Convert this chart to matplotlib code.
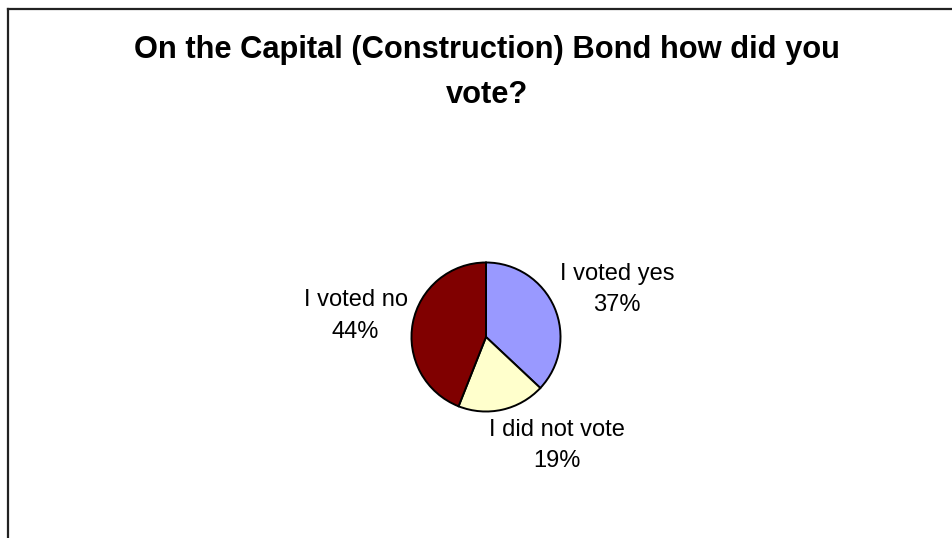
import matplotlib
matplotlib.use("Agg")
import matplotlib.pyplot as plt
from matplotlib.lines import Line2D

# ---- data ----
categories = ["I voted yes", "I did not vote", "I voted no"]
percents = [37, 19, 44]
colors = ["#9999FF", "#FFFFCC", "#800000"]
title_lines = ["On the Capital (Construction) Bond how did you", "vote?"]

W, H, DPI = 952, 538, 100
plt.rcParams['font.family'] = ['Liberation Sans', 'DejaVu Sans']

fig = plt.figure(figsize=(W / DPI, H / DPI), dpi=DPI)
fig.patch.set_facecolor("white")

# frame (left and top edges visible)
fig.add_artist(Line2D([7.5 / W, 7.5 / W], [0, 1 - 8.5 / H], transform=fig.transFigure,
                      color="#222222", lw=1.6))
fig.add_artist(Line2D([7.5 / W, 1], [1 - 8.5 / H, 1 - 8.5 / H], transform=fig.transFigure,
                      color="#222222", lw=1.6))

# title
title_baselines = [58, 103]
for line, yb in zip(title_lines, title_baselines):
    fig.text(487 / W, 1 - yb / H, line, ha="center", va="baseline",
             fontsize=22.2, fontweight="bold", color="black")

# pie axes
cx, cy, r = 486, 337, 76
ax = fig.add_axes([(cx - r) / W, (H - cy - r) / H, 2 * r / W, 2 * r / H])
ax.pie(percents, colors=colors, startangle=90, counterclock=False,
       wedgeprops=dict(edgecolor="black", linewidth=1.4), radius=1.0)
ax.set_xlim(-1.02, 1.02)
ax.set_ylim(-1.02, 1.02)
ax.set_aspect("equal")
ax.axis("off")

label_pos = [(1.76, 0.64), (0.95, -1.46), (-1.75, 0.28)]
for name, p, (lx, ly) in zip(categories, percents, label_pos):
    ax.text(lx, ly, f"{name}\n{p}%", ha="center", va="center", multialignment="center",
            fontsize=17, linespacing=1.55, clip_on=False, color="black")

fig.savefig("out.png", dpi=DPI, facecolor="white")
